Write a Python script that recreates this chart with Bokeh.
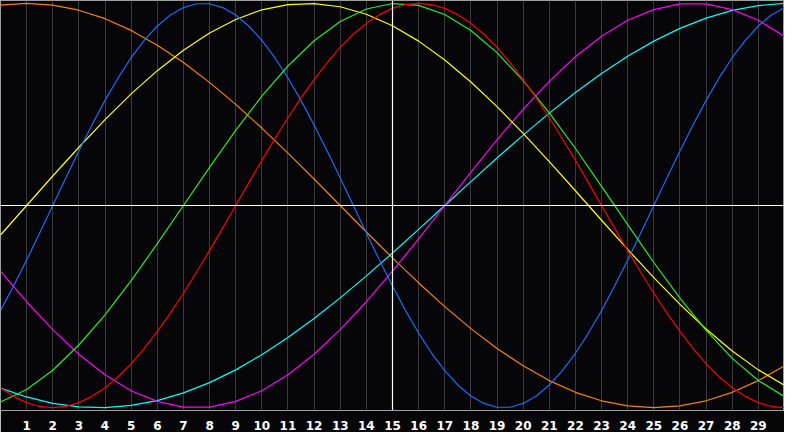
from bokeh.plotting import figure
from bokeh.models import Range1d, FixedTicker, Span
from bokeh.embed import file_html
from bokeh.resources import INLINE

# ---- data ----
days = list(range(31))                      # whole days 0..30
half_days = [i / 2 for i in range(61)]      # 0, 0.5, ..., 30 (for the fast cycles)
tick_days = list(range(1, 30))
tick_labels = {d: str(d) for d in tick_days}

orange = [0.991, 1.0, 0.991, 0.966, 0.924, 0.866, 0.793, 0.707, 0.609, 0.5, 0.383,
          0.259, 0.131, 0.0, -0.131, -0.259, -0.383, -0.5, -0.609, -0.707, -0.793,
          -0.866, -0.924, -0.966, -0.991, -1.0, -0.991, -0.966, -0.924, -0.866, -0.793]
blue = [-0.520, -0.398, -0.270, -0.136, 0.0, 0.136, 0.270, 0.398, 0.520, 0.631, 0.731,
        0.817, 0.888, 0.942, 0.979, 0.998, 0.998, 0.979, 0.942, 0.888, 0.817,
        0.731, 0.631, 0.520, 0.398, 0.270, 0.136, 0.0, -0.136, -0.270, -0.398,
        -0.520, -0.631, -0.731, -0.817, -0.888, -0.942, -0.979, -0.998, -0.998, -0.979,
        -0.942, -0.888, -0.817, -0.731, -0.631, -0.520, -0.398, -0.270, -0.136, 0.0,
        0.136, 0.270, 0.398, 0.520, 0.631, 0.731, 0.817, 0.888, 0.942, 0.979]
yellow = [-0.146, 0.0, 0.146, 0.288, 0.425, 0.552, 0.667, 0.768, 0.853, 0.920, 0.968,
          0.994, 0.999, 0.983, 0.946, 0.889, 0.813, 0.720, 0.611, 0.489, 0.357,
          0.217, 0.073, -0.073, -0.217, -0.357, -0.489, -0.611, -0.720, -0.813, -0.889]
green = [-0.972, -0.910, -0.815, -0.690, -0.541, -0.372, -0.189, 0.0, 0.189, 0.372, 0.541,
         0.690, 0.815, 0.910, 0.972, 0.999, 0.990, 0.945, 0.866, 0.756, 0.618,
         0.458, 0.282, 0.095, -0.095, -0.282, -0.458, -0.618, -0.756, -0.866, -0.945]
red = [-0.901, -0.944, -0.975, -0.994, -1.0, -0.994, -0.975, -0.944, -0.901, -0.847, -0.782,
       -0.707, -0.623, -0.532, -0.434, -0.330, -0.223, -0.112, 0.0, 0.112, 0.223,
       0.330, 0.434, 0.532, 0.623, 0.707, 0.782, 0.847, 0.901, 0.944, 0.975,
       0.994, 1.0, 0.994, 0.975, 0.944, 0.901, 0.847, 0.782, 0.707, 0.623,
       0.532, 0.434, 0.330, 0.223, 0.112, 0.0, -0.112, -0.223, -0.330, -0.434,
       -0.532, -0.623, -0.707, -0.782, -0.847, -0.901, -0.944, -0.975, -0.994, -1.0]
magenta = [-0.325, -0.476, -0.614, -0.736, -0.837, -0.916, -0.969, -0.997, -0.997, -0.969, -0.916,
           -0.837, -0.736, -0.614, -0.476, -0.325, -0.165, 0.0, 0.165, 0.325, 0.476,
           0.614, 0.736, 0.837, 0.916, 0.969, 0.997, 0.997, 0.969, 0.916, 0.837]
cyan = [-0.903, -0.947, -0.979, -0.996, -1.0, -0.989, -0.965, -0.927, -0.876, -0.813, -0.738,
        -0.653, -0.559, -0.457, -0.348, -0.235, -0.118, 0.0, 0.118, 0.235, 0.348,
        0.457, 0.559, 0.653, 0.738, 0.813, 0.876, 0.927, 0.965, 0.989, 1.0]

series = [
    (days, orange, "#ff8000"),
    (days, cyan, "#00ffff"),
    (days, magenta, "#ff00ff"),
    (days, yellow, "#ffff00"),
    (half_days, blue, "#1a6cff"),
    (days, green, "#22ee22"),
    (half_days, red, "#ff0000"),
]

BG = "#060609"

p = figure(width=784, height=432, output_backend="svg", toolbar_location=None,
           x_range=Range1d(0, 30), y_range=Range1d(-1.014, 1.014),
           min_border_left=0, min_border_right=0, min_border_top=0, min_border_bottom=0)
p.background_fill_color = BG
p.border_fill_color = BG
p.outline_line_color = "#a0a0a0"
p.outline_line_width = 1

p.yaxis.visible = False
p.ygrid.visible = False

p.xaxis.ticker = FixedTicker(ticks=tick_days)
p.xaxis.major_label_overrides = tick_labels
p.xaxis.axis_line_color = None
p.xaxis.major_tick_line_color = None
p.xaxis.minor_tick_line_color = None
p.xaxis.major_label_text_color = "#ffffff"
p.xaxis.major_label_text_font = "DejaVu Sans"
p.xaxis.major_label_text_font_style = "bold"
p.xaxis.major_label_text_font_size = "12px"
p.xaxis.major_label_standoff = 4

p.xgrid.ticker = FixedTicker(ticks=tick_days)
p.xgrid.grid_line_color = "#3a3a3a"
p.xgrid.grid_line_width = 1

p.add_layout(Span(location=15, dimension="height", line_color="#ffffff", line_width=1.2))
p.add_layout(Span(location=0, dimension="width", line_color="#ffffff", line_width=1.2))

for xs, vals, col in series:
    p.line(xs, vals, line_color=col, line_width=1.2)

open("out.html", "w").write(file_html(p, INLINE))
